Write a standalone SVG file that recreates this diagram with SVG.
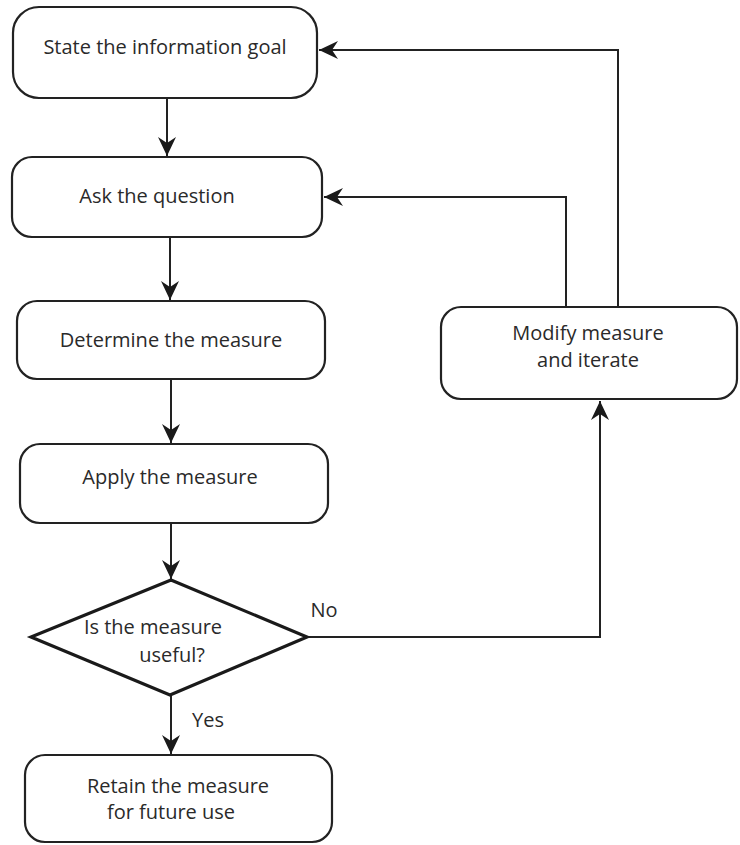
<svg xmlns="http://www.w3.org/2000/svg" width="740" height="845" viewBox="0 0 740 845">
  <style>
    .box { fill: #fff; stroke: #222; stroke-width: 2.2; }
    .dia { fill: #fff; stroke: #1a1a1a; stroke-width: 3.2; stroke-linejoin: miter; }
    .lbl { font-family: "Open Sans", "Liberation Sans", sans-serif; font-size: 20px; fill: #2a2a2a; text-anchor: middle; }
    .edge { fill: none; stroke: #222; stroke-width: 2; }
  </style>
  <defs>
    <marker id="arrow" markerUnits="userSpaceOnUse" markerWidth="20" markerHeight="18" viewBox="0 0 20 18" refX="19" refY="9" orient="auto">
      <path d="M0,0 L19,9 L0,18 L6,9 z" fill="#1a1a1a"/>
    </marker>
  </defs>
  <rect width="740" height="845" fill="#fff"/>

  <g id="connectors">
    <line class="edge" x1="167" y1="98" x2="167" y2="156" marker-end="url(#arrow)"/>
    <line class="edge" x1="170" y1="237" x2="170" y2="300" marker-end="url(#arrow)"/>
    <line class="edge" x1="171" y1="379" x2="171" y2="443" marker-end="url(#arrow)"/>
    <line class="edge" x1="171" y1="523" x2="171" y2="579" marker-end="url(#arrow)"/>
    <line class="edge" x1="171" y1="695" x2="171" y2="754" marker-end="url(#arrow)"/>
    <polyline class="edge" points="307,637 600,637 600,401" marker-end="url(#arrow)"/>
    <polyline class="edge" points="566,307 566,197 324,197" marker-end="url(#arrow)"/>
    <polyline class="edge" points="618,307 618,50 319,50" marker-end="url(#arrow)"/>
    <text class="lbl" x="324" y="617">No</text>
    <text class="lbl" x="208" y="727">Yes</text>
  </g>

  <g id="state-goal">
    <rect class="box" x="13" y="7" width="304" height="91" rx="26"/>
    <text class="lbl" x="165" y="54">State the information goal</text>
  </g>
  <g id="ask-question">
    <rect class="box" x="12" y="157" width="310" height="80" rx="20"/>
    <text class="lbl" x="157" y="203">Ask the question</text>
  </g>
  <g id="determine-measure">
    <rect class="box" x="17" y="301" width="308" height="78" rx="20"/>
    <text class="lbl" x="171" y="347">Determine the measure</text>
  </g>
  <g id="apply-measure">
    <rect class="box" x="20" y="444" width="308" height="79" rx="20"/>
    <text class="lbl" x="170" y="484">Apply the measure</text>
  </g>
  <g id="is-useful">
    <polygon class="dia" points="171,580 307,637 170,695 31,637"/>
    <text class="lbl" x="153" y="634">Is the measure</text>
    <text class="lbl" x="172" y="662">useful?</text>
  </g>
  <g id="retain-measure">
    <rect class="box" x="25" y="755" width="307" height="87" rx="20"/>
    <text class="lbl" x="178" y="793">Retain the measure</text>
    <text class="lbl" x="171" y="819">for future use</text>
  </g>
  <g id="modify-iterate">
    <rect class="box" x="441" y="307" width="296" height="92" rx="20"/>
    <text class="lbl" x="588" y="340">Modify measure</text>
    <text class="lbl" x="588" y="367">and iterate</text>
  </g>
</svg>
